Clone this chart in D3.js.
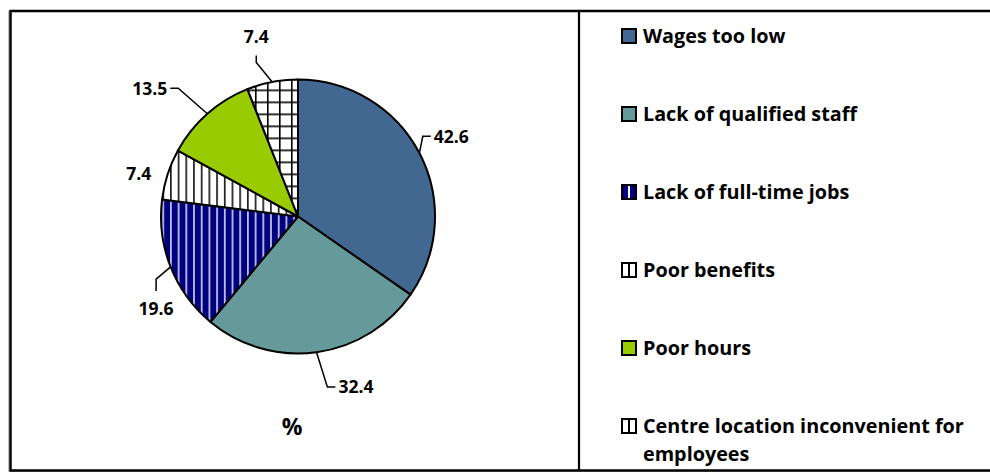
<!DOCTYPE html>
<html>
<head>
<meta charset="utf-8">
<script src="https://cdn.jsdelivr.net/npm/d3@7"></script>
<style>
  html, body { margin: 0; padding: 0; background: #fff; }
  svg { display: block; font-family: "Open Sans", "DejaVu Sans", sans-serif; font-weight: 700; }
</style>
</head>
<body>
<svg id="chart" width="990" height="474"></svg>
<script>
// Reasons given (percent of respondents)
const categories = [
  "Wages too low",
  "Lack of qualified staff",
  "Lack of full-time jobs",
  "Poor benefits",
  "Poor hours",
  "Centre location inconvenient for employees"
];
const values = [42.6, 32.4, 19.6, 7.4, 13.5, 7.4];
const unitLabel = "%";

// Value-label placement: distance from pie centre, angular nudge (deg), leader attach side
const labelDistance = [173, 180, 169, 165, 196, 185];
const labelNudge = [0, -11, -11.3, -2.9, -7.7, -2.2];
const labelAttach = ["left", "left", "top", "none", "right", "bottom"];

const fills = ["#426891", "#669999", "url(#navyStripes)", "url(#thinStripes)", "#99cc00", "url(#grid)"];

const svg = d3.select("#chart");
const W = 990, H = 474;

// ---- fill patterns ----
const defs = svg.append("defs");
const navy = defs.append("pattern").attr("id", "navyStripes")
  .attr("patternUnits", "userSpaceOnUse").attr("width", 7.7).attr("height", 10);
navy.append("rect").attr("width", 7.7).attr("height", 10).attr("fill", "#000080");
navy.append("rect").attr("x", 3).attr("width", 1.6).attr("height", 10).attr("fill", "#d8d8f0");

const thin = defs.append("pattern").attr("id", "thinStripes")
  .attr("patternUnits", "userSpaceOnUse").attr("width", 7.7).attr("height", 10);
thin.append("rect").attr("width", 7.7).attr("height", 10).attr("fill", "#fff");
thin.append("rect").attr("x", 3).attr("width", 1.5).attr("height", 10).attr("fill", "#000");

const grid = defs.append("pattern").attr("id", "grid")
  .attr("patternUnits", "userSpaceOnUse").attr("width", 12).attr("height", 12);
grid.append("rect").attr("width", 12).attr("height", 12).attr("fill", "#fff");
grid.append("rect").attr("x", 5).attr("width", 1.6).attr("height", 12).attr("fill", "#000");
grid.append("rect").attr("y", 5).attr("width", 12).attr("height", 1.6).attr("fill", "#000");

// ---- frame ----
const frame = svg.append("g").attr("fill", "none");
frame.append("path").attr("d", `M8.5,11 V471.5 H${W}`).attr("stroke", "#bbb").attr("stroke-width", 1);
frame.append("path").attr("d", `M${W},11 H10.5 V470.5 H${W}`).attr("stroke", "#000").attr("stroke-width", 2.5);
frame.append("line").attr("x1", 579).attr("x2", 579).attr("y1", 11).attr("y2", 470.5)
  .attr("stroke", "#000").attr("stroke-width", 2.2);

// ---- pie ----
const cx = 298, cy = 216.5, radius = 137;
const pie = d3.pie().sort(null).value(d => d).startAngle(0).endAngle(2 * Math.PI);
const arcs = pie(values);
const arc = d3.arc().innerRadius(0).outerRadius(radius);

const g = svg.append("g").attr("transform", `translate(${cx},${cy})`);
g.selectAll("path.slice").data(arcs).join("path")
  .attr("class", "slice")
  .attr("d", arc)
  .attr("fill", (d, i) => fills[i])
  .attr("stroke", "#000")
  .attr("stroke-width", 2)
  .attr("stroke-linejoin", "round");

// ---- value labels with leader lines ----
const polar = (r, a) => [r * Math.sin(a), -r * Math.cos(a)];
const labelSize = 17.5;
const digitH = labelSize * 0.714;

arcs.forEach((d, i) => {
  const mid = (d.startAngle + d.endAngle) / 2;
  const [lx, ly] = polar(labelDistance[i], mid + labelNudge[i] * Math.PI / 180);
  const t = g.append("text")
    .attr("x", lx).attr("y", ly + digitH / 2)
    .attr("text-anchor", "middle")
    .attr("font-size", labelSize)
    .attr("fill", "#000")
    .text(d3.format(".1f")(d.data));
  const w = t.node().getComputedTextLength();
  const side = labelAttach[i];
  if (side === "none") return;
  const [ex, ey] = polar(radius, mid);
  let a, b;
  if (side === "left") { a = [lx - w / 2 - 3, ly]; b = [a[0] - 8, ly]; }
  else if (side === "right") { a = [lx + w / 2 + 3, ly]; b = [a[0] + 8, ly]; }
  else if (side === "top") { a = [lx, ly - digitH / 2 - 11]; b = [lx, a[1] - 12]; }
  else { a = [lx, ly + digitH / 2 + 13]; b = [lx, a[1] + 7]; }
  g.append("path")
    .attr("d", d3.line()([[ex, ey], b, a]))
    .attr("fill", "none").attr("stroke", "#000").attr("stroke-width", 1.5);
});

// unit caption under the pie
svg.append("text")
  .attr("x", 292).attr("y", 435)
  .attr("text-anchor", "middle")
  .attr("font-size", 23)
  .text(unitLabel);

// ---- legend ----
const legendY = d3.scaleLinear().domain([0, categories.length - 1]).range([36, 426]);
const swatchX = 622, sw = 14, textX = 643, maxTextW = 330, legendSize = 19.8;

const leg = svg.append("g");
categories.forEach((name, i) => {
  const y = legendY(i);
  const row = leg.append("g");
  const base = (i === 2) ? "#000080" : (i === 3 || i === 5) ? "#fff" : fills[i];
  row.append("rect")
    .attr("x", swatchX).attr("y", y - sw / 2)
    .attr("width", sw).attr("height", sw)
    .attr("fill", base).attr("stroke", "#000").attr("stroke-width", 2);
  if (i === 2 || i === 3 || i === 5) {
    row.append("line")
      .attr("x1", swatchX + sw / 2).attr("x2", swatchX + sw / 2)
      .attr("y1", y - sw / 2 + 1).attr("y2", y + sw / 2 - 1)
      .attr("stroke", i === 2 ? "#fff" : "#000").attr("stroke-width", 2);
  }
  // wrap long names across lines
  const text = row.append("text")
    .attr("x", textX).attr("y", y + legendSize * 0.714 / 2)
    .attr("font-size", legendSize);
  const words = name.split(" ");
  let line = [], tspan = text.append("tspan").attr("x", textX);
  words.forEach(word => {
    line.push(word);
    tspan.text(line.join(" "));
    if (tspan.node().getComputedTextLength() > maxTextW && line.length > 1) {
      line.pop();
      tspan.text(line.join(" "));
      line = [word];
      tspan = text.append("tspan").attr("x", textX).attr("dy", 28).text(word);
    }
  });
});
</script>
</body>
</html>
